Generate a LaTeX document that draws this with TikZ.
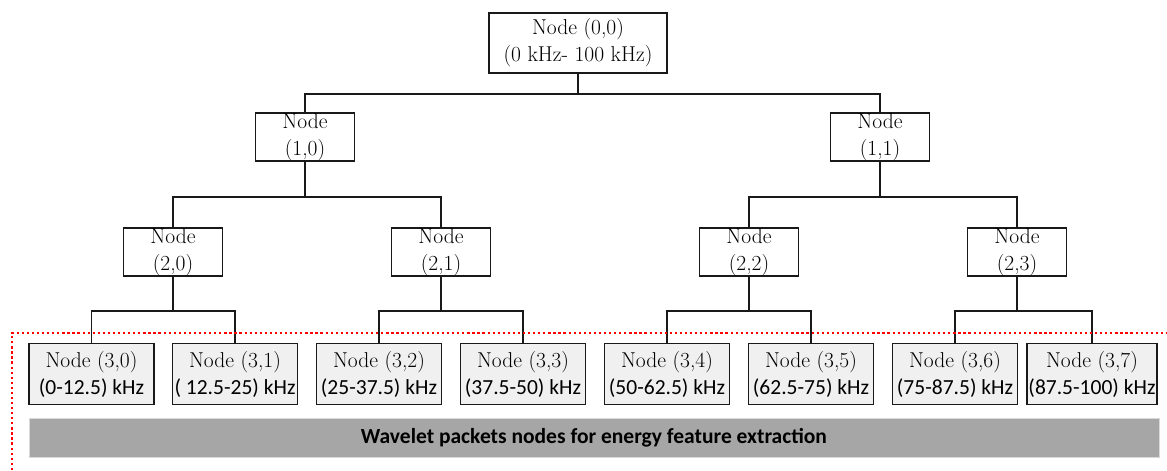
\documentclass[tikz,border=0pt]{standalone}
\usepackage{fontspec}
\usepackage{xcolor}
\usepackage{tikz}
\newfontfamily\calibri{Carlito}
\definecolor{leafgray}{RGB}{240,240,240}
\definecolor{bargray}{RGB}{166,166,166}

\begin{document}
\begin{tikzpicture}[
  x=0.025cm, y=-0.025cm,
  box/.style={draw=black!90, line width=1.1pt, align=center, inner sep=0pt,
              font=\fontsize{15.3}{19.2}\selectfont},
  topbox/.style={box, minimum width=4.45cm, minimum height=1.5cm},
  midbox/.style={box, minimum width=2.475cm, minimum height=1.2cm},
  leafbox/.style={box, fill=leafgray, minimum width=3.125cm, minimum height=1.525cm},
  link/.style={draw=black!90, line width=1.1pt},
  zone/.style={red, dotted, line width=1.6pt},
]
\useasboundingbox (0,0) rectangle (1167,470);

% Tree nodes
\node[topbox] (n00) at (578,43) {Node (0,0)\\(0 kHz- 100 kHz)};

\node[midbox] (n10) at (305,137) {Node\\(1,0)};
\node[midbox] (n11) at (880,137) {Node\\(1,1)};

\node[midbox] (n20) at (173,252)  {Node\\(2,0)};
\node[midbox] (n21) at (441,252)  {Node\\(2,1)};
\node[midbox] (n22) at (749,252)  {Node\\(2,2)};
\node[midbox] (n23) at (1017,252) {Node\\(2,3)};

\node[leafbox] (n30) at (91.5,374) {Node (3,0)\\{\calibri (0-12.5) kHz}};
\node[leafbox] (n31) at (235,374)  {Node (3,1)\\{\calibri ( 12.5-25) kHz}};
\node[leafbox] (n32) at (379,374)  {Node (3,2)\\{\calibri (25-37.5) kHz}};
\node[leafbox] (n33) at (523,374)  {Node (3,3)\\{\calibri (37.5-50) kHz}};
\node[leafbox] (n34) at (667,374)  {Node (3,4)\\{\calibri (50-62.5) kHz}};
\node[leafbox] (n35) at (811,374)  {Node (3,5)\\{\calibri (62.5-75) kHz}};
\node[leafbox] (n36) at (955,374)  {Node (3,6)\\{\calibri (75-87.5) kHz}};
\node[leafbox, minimum width=3.25cm] (n37) at (1092,374) {Node (3,7)\\{\calibri (87.5-100) kHz}};

% Branches
\draw[link] (n00.south) -- ++(0,20) -| (n10.north);
\draw[link] (n00.south) -- ++(0,20) -| (n11.north);
\draw[link] (n10.south) -- ++(0,35) -| (n20.north);
\draw[link] (n10.south) -- ++(0,35) -| (n21.north);
\draw[link] (n11.south) -- ++(0,35) -| (n22.north);
\draw[link] (n11.south) -- ++(0,35) -| (n23.north);
\draw[link] (n20.south) -- ++(0,34) -| (n30.north);
\draw[link] (n20.south) -- ++(0,34) -| (n31.north);
\draw[link] (n21.south) -- ++(0,34) -| (n32.north);
\draw[link] (n21.south) -- ++(0,34) -| (n33.north);
\draw[link] (n22.south) -- ++(0,34) -| (n34.north);
\draw[link] (n22.south) -- ++(0,34) -| (n35.north);
\draw[link] (n23.south) -- ++(0,34) -| (n36.north);
\draw[link] (n23.south) -- ++(0,34) -| (n37.north);

% Feature zone
\coordinate (zonetop) at (12,333);
\draw[zone] (12,470) -- (zonetop) -- (1167,333);

\node[draw=black!15, fill=bargray, minimum width=28.25cm, minimum height=0.975cm, inner sep=0pt,
      font=\calibri\bfseries\fontsize{15.3}{18}\selectfont] (bar) at (594,437.5)
  {Wavelet packets nodes for energy feature extraction};

\end{tikzpicture}
\end{document}
